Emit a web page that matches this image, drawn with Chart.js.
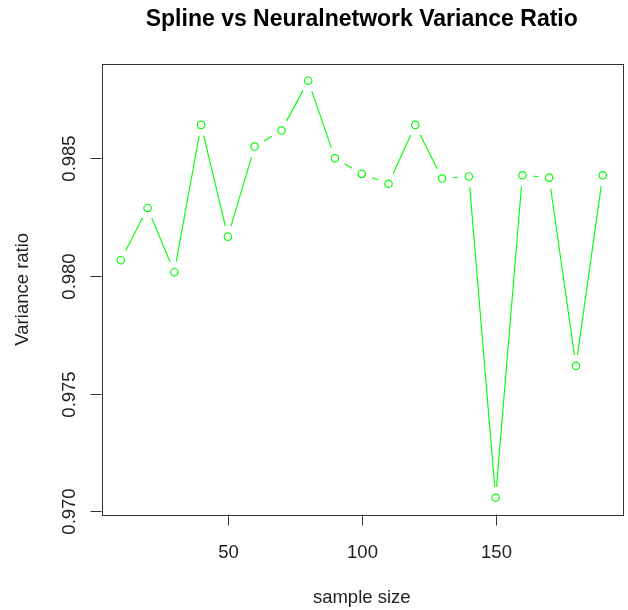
<!DOCTYPE html>
<html>
<head>
<meta charset="utf-8">
<script src="https://cdn.jsdelivr.net/npm/chart.js@4"></script>
<style>
  html, body { margin: 0; padding: 0; background: #fff; }
  #wrap { width: 628px; height: 610px; }
</style>
</head>
<body>
<div id="wrap"><canvas id="c" width="628" height="610"></canvas></div>
<script>
// sample sizes and variance ratios
const sampleSize = [10, 20, 30, 40, 50, 60, 70, 80, 90, 100, 110, 120, 130, 140, 150, 160, 170, 180, 190];
const varianceRatio = [0.98067, 0.98289, 0.98016, 0.98642, 0.98167, 0.98550, 0.98618, 0.98830, 0.98500, 0.98434,
                       0.98392, 0.98642, 0.98414, 0.98423, 0.97057, 0.98428, 0.98418, 0.97618, 0.98428];
const xTicks = [50, 100, 150];
const yTicks = [0.970, 0.975, 0.980, 0.985];
const yTickLabels = ['0.970', '0.975', '0.980', '0.985'];

const chartTitle = 'Spline vs Neuralnetwork Variance Ratio';
const xTitle = 'sample size';
const yTitle = 'Variance ratio';

const green = '#00ff00';
const font = '"Liberation Sans", Arial, sans-serif';

// R-like axis limits (4% extension)
const xr = Math.max(...sampleSize) - Math.min(...sampleSize);
const yr = Math.max(...varianceRatio) - Math.min(...varianceRatio);

const points = sampleSize.map((x, i) => ({ x: x, y: varianceRatio[i] }));

// draws the R style box, axes, labels and the "type = b" lines
const rPlot = {
    id: 'rPlot',
    beforeDatasetsDraw(chart) {
        const ctx = chart.ctx;
        const pts = chart.getDatasetMeta(0).data;
        const gap = 11;
        ctx.save();
        ctx.strokeStyle = green;
        ctx.lineWidth = 1.1;
        for (let i = 0; i < pts.length - 1; i++) {
            const a = pts[i], b = pts[i + 1];
            const dx = b.x - a.x, dy = b.y - a.y;
            const len = Math.sqrt(dx * dx + dy * dy);
            if (len <= 2 * gap) continue;
            const ux = dx / len, uy = dy / len;
            ctx.beginPath();
            ctx.moveTo(a.x + ux * gap, a.y + uy * gap);
            ctx.lineTo(b.x - ux * gap, b.y - uy * gap);
            ctx.stroke();
        }
        ctx.restore();
    },
    afterDraw(chart) {
        const ctx = chart.ctx;
        const area = chart.chartArea;
        const xs = chart.scales.x, ys = chart.scales.y;
        const tick = 11;
        ctx.save();
        ctx.strokeStyle = '#333';
        ctx.lineWidth = 1;
        ctx.strokeRect(Math.round(area.left) + 0.5, Math.round(area.top) + 0.5,
            Math.round(area.right - area.left), Math.round(area.bottom - area.top));

        ctx.fillStyle = '#222';
        ctx.font = '18.5px ' + font;
        ctx.textAlign = 'center';
        ctx.textBaseline = 'alphabetic';
        xTicks.forEach(v => {
            const px = Math.round(xs.getPixelForValue(v)) + 0.5;
            ctx.beginPath();
            ctx.moveTo(px, area.bottom);
            ctx.lineTo(px, area.bottom + tick);
            ctx.stroke();
            ctx.fillText(String(v), px, area.bottom + 43);
        });
        yTicks.forEach((v, i) => {
            const py = Math.round(ys.getPixelForValue(v)) + 0.5;
            ctx.beginPath();
            ctx.moveTo(area.left, py);
            ctx.lineTo(area.left - tick, py);
            ctx.stroke();
            ctx.save();
            ctx.translate(area.left - 27, py);
            ctx.rotate(-Math.PI / 2);
            ctx.fillText(yTickLabels[i], 0, 0);
            ctx.restore();
        });

        const cx = (area.left + area.right) / 2;
        const cy = (area.top + area.bottom) / 2;
        ctx.fillText(xTitle, cx, 603);
        ctx.save();
        ctx.translate(28, cy);
        ctx.rotate(-Math.PI / 2);
        ctx.fillText(yTitle, 0, 0);
        ctx.restore();

        ctx.fillStyle = '#000';
        ctx.font = 'bold 23px ' + font;
        ctx.fillText(chartTitle, cx, 26);
        ctx.restore();
    }
};

new Chart(document.getElementById('c'), {
    type: 'scatter',
    data: {
        datasets: [{
            data: points,
            showLine: false,
            pointStyle: 'circle',
            pointRadius: 3.7,
            pointBorderWidth: 1.2,
            pointBorderColor: green,
            pointBackgroundColor: 'rgba(255,255,255,0)',
            pointHoverRadius: 3.7
        }]
    },
    options: {
        responsive: false,
        animation: false,
        devicePixelRatio: 1,
        layout: { padding: { left: 101.5, right: 6, top: 64, bottom: 95.5 } },
        plugins: { legend: { display: false }, tooltip: { enabled: false }, title: { display: false } },
        scales: {
            x: {
                type: 'linear', display: false,
                min: Math.min(...sampleSize) - 0.04 * xr,
                max: Math.max(...sampleSize) + 0.04 * xr
            },
            y: {
                type: 'linear', display: false,
                min: Math.min(...varianceRatio) - 0.04 * yr,
                max: Math.max(...varianceRatio) + 0.04 * yr
            }
        }
    },
    plugins: [rPlot]
});
</script>
</body>
</html>
